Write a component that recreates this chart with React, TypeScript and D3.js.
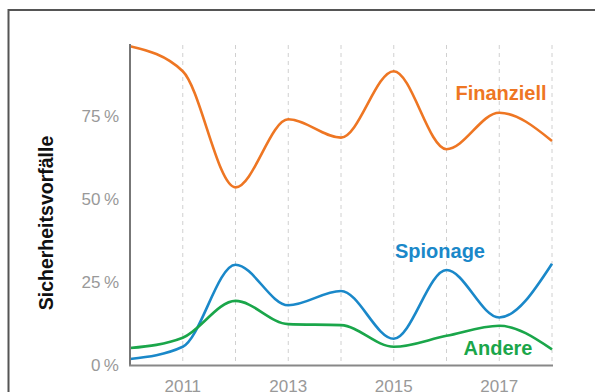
import React from "react";
import * as d3 from "d3";

const years = [2010, 2011, 2012, 2013, 2014, 2015, 2016, 2017, 2018];
const finanziell = [96, 88.5, 53.5, 74, 68.5, 88.5, 65, 76, 67.5];
const spionage = [1.8, 5.5, 30.2, 18, 22.3, 7.9, 28.6, 14.3, 30.5];
const andere = [5.1, 8.2, 19.3, 12.3, 12, 5.5, 8.8, 11.8, 4.7];
const yTicks = [0, 25, 50, 75];
const xTickLabels = [2011, 2013, 2015, 2017];
const seriesNames = ["Finanziell", "Spionage", "Andere"];
const seriesColors = ["#EE7623", "#1A88C9", "#1AA64A"];

export default function App() {
  const W = 595, H = 392;
  const x = d3.scaleLinear().domain([2010, 2018]).range([130, 552]);
  const y = d3.scaleLinear().domain([0, 100]).range([365, 33]);
  const line = d3
    .line<number>()
    .x((_, i) => x(years[i]))
    .y((d) => y(d))
    .curve(d3.curveMonotoneX);
  const series = [finanziell, spionage, andere];
  const labelPos = [
    { x: 501, y: 93 },
    { x: 440, y: 251 },
    { x: 498, y: 348 },
  ];
  const font = "'Liberation Sans', Arial, sans-serif";
  return (
    <svg
      width={W}
      height={H}
      style={{ position: "absolute", left: 0, top: 0, display: "block" }}
      fontFamily={font}
    >
      <rect x={0} y={0} width={W} height={H} fill="#fff" />
      <path d={`M8.5,${H} L8.5,10 L${W},10`} fill="none" stroke="#555" strokeWidth={2} />
      {years.slice(1).map((yr) => (
        <line
          key={yr}
          x1={x(yr)}
          x2={x(yr)}
          y1={45}
          y2={365}
          stroke="#d0d0d0"
          strokeWidth={1}
          strokeDasharray="4,4"
        />
      ))}
      {series.map((s, i) => (
        <path
          key={i}
          d={line(s) || ""}
          fill="none"
          stroke={seriesColors[i]}
          strokeWidth={2.6}
        />
      ))}
      <line x1={130} x2={130} y1={44} y2={366} stroke="#777" strokeWidth={2} />
      <line x1={129} x2={553} y1={365.5} y2={365.5} stroke="#888" strokeWidth={2} />
      {yTicks.map((t) => (
        <text
          key={t}
          x={119}
          y={y(t)}
          textAnchor="end"
          dominantBaseline="central"
          fontSize={17}
          fill="#999"
        >
          {`${t}\u2009%`}
        </text>
      ))}
      {xTickLabels.map((t) => (
        <text
          key={t}
          x={x(t)}
          y={392}
          textAnchor="middle"
          fontSize={17}
          fill="#999"
        >
          {t}
        </text>
      ))}
      <text
        transform="translate(53,223) rotate(-90)"
        textAnchor="middle"
        fontSize={19.5}
        fontWeight="bold"
        fill="#111"
      >
        Sicherheitsvorfälle
      </text>
      {seriesNames.map((n, i) => (
        <text
          key={n}
          x={labelPos[i].x}
          y={labelPos[i].y}
          textAnchor="middle"
          dominantBaseline="central"
          fontSize={20}
          fontWeight="bold"
          fill={seriesColors[i]}
        >
          {n}
        </text>
      ))}
    </svg>
  );
}
